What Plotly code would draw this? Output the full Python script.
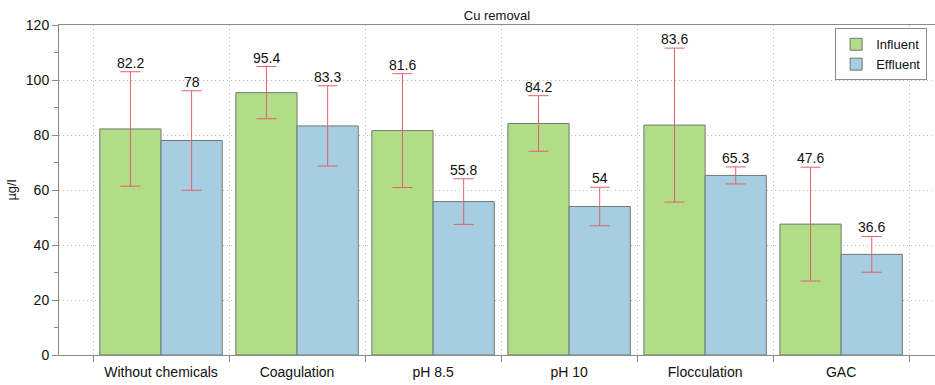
import plotly.graph_objects as go

# Treatment steps and copper concentrations (µg/l)
categories = ["Without chemicals", "Coagulation", "pH 8.5", "pH 10", "Flocculation", "GAC"]
influent = [82.2, 95.4, 81.6, 84.2, 83.6, 47.6]
influent_err = [20.8, 9.5, 20.7, 10.1, 28.0, 20.7]
effluent = [78, 83.3, 55.8, 54, 65.3, 36.6]
effluent_err = [18.1, 14.6, 8.3, 7.0, 3.1, 6.5]

GREEN = "#b1dd88"
BLUE = "#a6cde1"
EDGE = "#6f7a70"
ERR = "#e2606c"
AXIS = "#8a8a8a"
GRID = "#bdbdbd"
FONT = "Liberation Sans, Arial, sans-serif"

fig = go.Figure()
for name, vals, errs, col in [("Influent", influent, influent_err, GREEN),
                              ("Effluent", effluent, effluent_err, BLUE)]:
    fig.add_trace(go.Bar(
        name=name, x=categories, y=vals,
        marker=dict(color=col, line=dict(color=EDGE, width=1)),
        error_y=dict(type="data", array=errs, visible=True,
                     color=ERR, thickness=1, width=10),
    ))

# Value labels sitting above each error bar cap
bar_off = 0.225
for i in range(len(categories)):
    for vals, errs, off in [(influent, influent_err, -bar_off),
                            (effluent, effluent_err, bar_off)]:
        fig.add_annotation(x=i + off, y=vals[i] + errs[i], text=f"{vals[i]:g}",
                           showarrow=False, yanchor="bottom", yshift=-1,
                           font=dict(family=FONT, size=14, color="#111"))

fig.update_layout(
    width=935, height=385,
    margin=dict(l=59, r=0, t=25, b=30),
    paper_bgcolor="white", plot_bgcolor="white",
    barmode="group", bargap=0.1, bargroupgap=0,
    font=dict(family=FONT, size=13, color="#111"),
    title=dict(text="Cu removal", x=0.5, xref="paper", y=0.96, yanchor="middle",
               xanchor="center", font=dict(family=FONT, size=13, color="#111")),
    showlegend=True,
    legend=dict(x=0.886, y=0.99, xanchor="left", yanchor="top",
                bordercolor="#8a8a8a", borderwidth=1, bgcolor="white",
                font=dict(family=FONT, size=13, color="#111"),
                itemwidth=30, tracegroupgap=0),
)

fig.update_xaxes(
    range=[-0.75, 5.69], tickson="boundaries",
    ticks="outside", ticklen=6, tickcolor=AXIS,
    showline=True, linecolor=AXIS, linewidth=1, mirror=True,
    showgrid=True, gridcolor=GRID, griddash="1px,3px", gridwidth=1,
    ticklabelstandoff=4,
    tickfont=dict(family=FONT, size=14, color="#111"),
)
fig.update_yaxes(
    range=[0, 120], dtick=20, tick0=0,
    ticks="outside", ticklen=6, tickcolor=AXIS,
    minor=dict(dtick=10, ticks="outside", ticklen=4, tickcolor=AXIS, showgrid=False),
    showline=True, linecolor=AXIS, linewidth=1,
    showgrid=True, gridcolor=GRID, griddash="1px,3px", gridwidth=1,
    zeroline=False,
    title=dict(text="µg/l", standoff=6, font=dict(family=FONT, size=13, color="#111")),
    tickfont=dict(family=FONT, size=14, color="#111"),
)

fig.write_html("out.html")
